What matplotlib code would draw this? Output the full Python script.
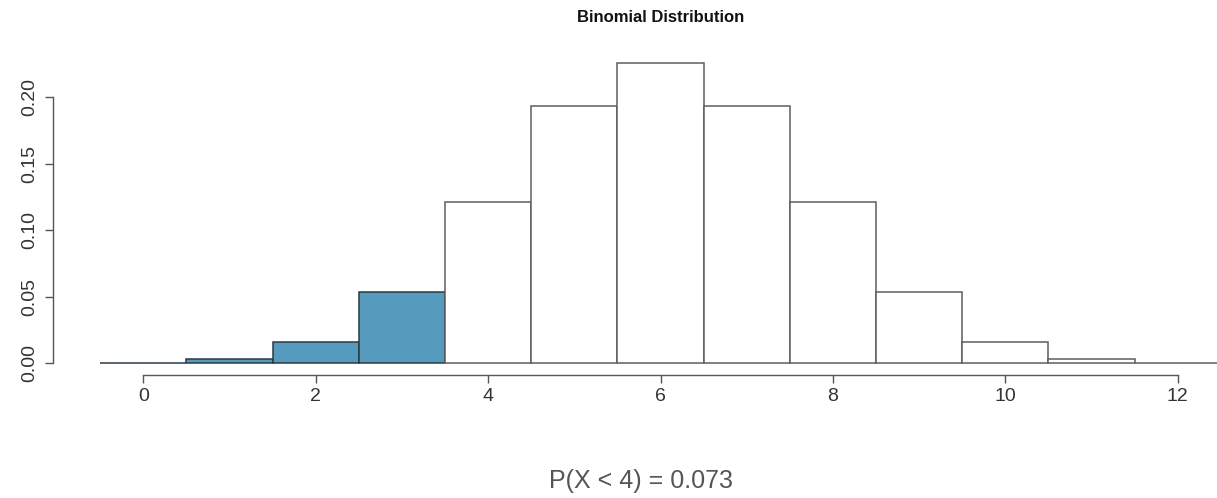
import matplotlib
matplotlib.use("Agg")
import matplotlib.pyplot as plt

plt.rcParams['font.family'] = ['Liberation Sans', 'DejaVu Sans']

k_values = [0, 1, 2, 3, 4, 5, 6, 7, 8, 9, 10, 11, 12]
probs = [0.000244, 0.00293, 0.0161, 0.0537, 0.1208, 0.1934, 0.2256,
         0.1934, 0.1208, 0.0537, 0.0161, 0.00293, 0.000244]
shaded = [True, True, True, True, False, False, False, False, False,
          False, False, False, False]
x_ticks = [0, 2, 4, 6, 8, 10, 12]
y_ticks = [0.00, 0.05, 0.10, 0.15, 0.20]
y_tick_labels = ["0.00", "0.05", "0.10", "0.15", "0.20"]
title = "Binomial Distribution"
annotation = "P(X < 4) = 0.073"

fig = plt.figure(figsize=(12.17, 4.98), dpi=100)
ax = fig.add_axes([53/1217, (498-375)/498, 1211/1217, (375-51)/498])

blue = "#569BBD"
faces = [blue if s else "white" for s in shaded]
edges = ["#2b3a44" if s else "#5e5e5e" for s in shaded]
ax.bar(k_values, probs, width=1.0, color=faces, edgecolor=edges, linewidth=1.1)

ax.set_xlim(-1.048, 13.0)
ax.set_ylim(-0.009, 0.2346)

for s in ['top', 'right']:
    ax.spines[s].set_visible(False)
ax.spines['bottom'].set_bounds(0, 12)
ax.spines['left'].set_bounds(0, 0.2)
for s in ['bottom', 'left']:
    ax.spines[s].set_color("#555555")
    ax.spines[s].set_linewidth(1.0)

ax.set_xticks(x_ticks)
ax.set_xticklabels([str(t) for t in x_ticks])
ax.set_yticks(y_ticks)
ax.set_yticklabels(y_tick_labels, rotation=90, va='center')
ax.tick_params(axis='x', length=6, width=1.0, color="#555555", labelsize=14,
               labelcolor="#333333", pad=3)
ax.tick_params(axis='y', length=5.5, width=1.0, color="#555555", labelsize=14,
               labelcolor="#333333", pad=5)

fig.text(661/1217, 1 - 17/498, title, ha='center', va='center',
         fontsize=12, fontweight='bold', color="#111111")
fig.text(641/1217, 1 - 481/498, annotation, ha='center', va='center',
         fontsize=18, color="#555555")

fig.savefig("out.png", dpi=100)
